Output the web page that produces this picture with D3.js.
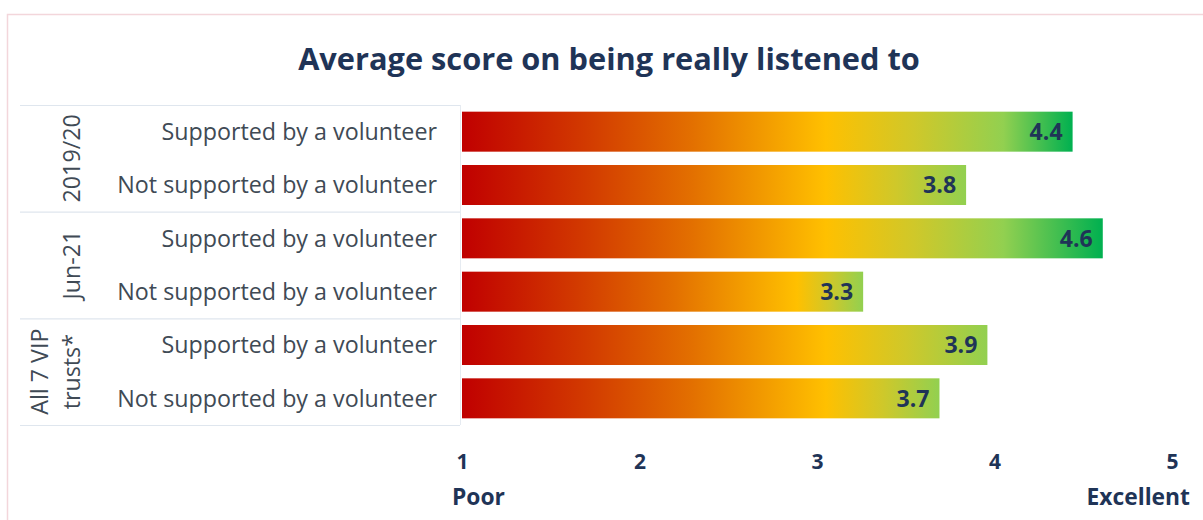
<!DOCTYPE html>
<html>
<head>
<meta charset="utf-8">
<script src="https://cdn.jsdelivr.net/npm/d3@7"></script>
<style>
  html, body { margin: 0; padding: 0; background: #ffffff; }
  svg { display: block; }
</style>
</head>
<body>
<svg id="chart" width="1203" height="520"></svg>
<script>
// ---------------- data ----------------
const title = "Average score on being really listened to";
const categories = [
  "Supported by a volunteer",
  "Not supported by a volunteer",
  "Supported by a volunteer",
  "Not supported by a volunteer",
  "Supported by a volunteer",
  "Not supported by a volunteer"
];
const groupNames = ["2019/20", "Jun-21", "All 7 VIP trusts*"];
const groupLines = [["2019/20"], ["Jun-21"], ["All 7 VIP", "trusts*"]];
const groupSizes = [2, 2, 2];
const values = [4.44, 3.84, 4.61, 3.26, 3.96, 3.69];
const valueLabels = ["4.4", "3.8", "4.6", "3.3", "3.9", "3.7"];
const tickValues = [1, 2, 3, 4, 5];
const tickLabels = ["1", "2", "3", "4", "5"];
const endLabels = ["Poor", "Excellent"];

// ---------------- layout ----------------
const W = 1203, H = 520;
const FONT = "'Open Sans', 'Noto Sans', sans-serif";
const NAVY = "#1f3457";
const GREY = "#404a55";
const svg = d3.select("#chart");

function fit(sel, target) {
  const node = sel.node();
  const fs = parseFloat(sel.attr("font-size"));
  const w = node.getComputedTextLength();
  const nfs = fs * target / w;
  sel.attr("font-size", nfs);
  return nfs;
}

// outer border
svg.append("rect")
  .attr("x", 7.5).attr("y", 14.5)
  .attr("width", W + 20).attr("height", H + 20)
  .attr("fill", "#ffffff")
  .attr("stroke", "#f3d6db").attr("stroke-width", 1.5);

// title
const t = svg.append("text")
  .attr("x", 609).attr("y", 70)
  .attr("text-anchor", "middle")
  .attr("font-family", FONT).attr("font-weight", 700)
  .attr("font-size", 28).attr("fill", NAVY)
  .text(title);
fit(t, 622);

// scales
const x = d3.scaleLinear().domain([1, 5]).range([462, 1172]);
const rows = d3.range(values.length);
const y = d3.scaleBand().domain(rows).range([105, 425])
  .paddingInner(0.25).paddingOuter(0.125);

// separator lines (group boundaries)
let cum = 0;
const boundaries = [0];
groupSizes.forEach(s => { cum += s; boundaries.push(cum); });
const step = y.step();
const yTop = 105;
svg.append("g").selectAll("line")
  .data(boundaries)
  .join("line")
  .attr("x1", 20).attr("x2", 460)
  .attr("y1", d => yTop + d * step + 0.5)
  .attr("y2", d => yTop + d * step + 0.5)
  .attr("stroke", "#dfe6ee").attr("stroke-width", 1.2);
// vertical axis line
svg.append("line")
  .attr("x1", 460.5).attr("x2", 460.5)
  .attr("y1", 105).attr("y2", 425)
  .attr("stroke", "#e6ebf1").attr("stroke-width", 1);

// gradients per bar
const defs = svg.append("defs");
const x0 = x(1);
values.forEach((v, i) => {
  const end = x(v);
  const L = end - x0;
  const yellowX = Math.min(x(3.05), end - 66);
  const s = (yellowX - x0) / (x(3.05) - x0);
  const stops = [
    [x0, "#c00000"],
    [x0 + (x(1.7) - x0) * s, "#d23a00"],
    [x0 + (x(2.3) - x0) * s, "#e37000"],
    [yellowX, "#ffc000"]
  ];
  if (end > x(4.05)) {
    stops.push([x(3.55), "#cfc82a"]);
    stops.push([x(4.05), "#92d050"]);
    stops.push([end, "#00b050"]);
  } else {
    stops.push([yellowX + (end - yellowX) * 0.5, "#cfc82a"]);
    stops.push([end, "#92d050"]);
  }
  const g = defs.append("linearGradient")
    .attr("id", "grad" + i)
    .attr("x1", "0").attr("x2", "1").attr("y1", "0").attr("y2", "0");
  g.selectAll("stop").data(stops).join("stop")
    .attr("offset", d => Math.max(0, Math.min(1, (d[0] - x0) / L)))
    .attr("stop-color", d => d[1]);
});

// bars
svg.append("g").selectAll("rect")
  .data(values)
  .join("rect")
  .attr("x", x(1))
  .attr("y", (d, i) => y(i))
  .attr("width", d => x(d) - x(1))
  .attr("height", y.bandwidth())
  .attr("fill", (d, i) => `url(#grad${i})`);

// value labels
const vl = svg.append("g").selectAll("text")
  .data(values)
  .join("text")
  .attr("x", d => x(d) - 10)
  .attr("y", (d, i) => y(i) + y.bandwidth() / 2)
  .attr("dy", "0.36em")
  .attr("text-anchor", "end")
  .attr("font-family", FONT).attr("font-weight", 700)
  .attr("font-size", 20).attr("fill", NAVY)
  .text((d, i) => valueLabels[i]);
const vfs = fit(d3.select(vl.nodes()[0]), 33);
vl.attr("font-size", vfs);

// category labels
const cl = svg.append("g").selectAll("text")
  .data(categories)
  .join("text")
  .attr("x", 437)
  .attr("y", (d, i) => y(i) + y.bandwidth() / 2)
  .attr("dy", "0.36em")
  .attr("text-anchor", "end")
  .attr("font-family", FONT)
  .attr("font-size", 20).attr("fill", GREY)
  .text(d => d);
const cfs = fit(d3.select(cl.nodes()[1]), 320);
cl.attr("font-size", cfs);

// group labels (rotated)
const gg = svg.append("g");
groupLines.forEach((lines, gi) => {
  const cy = yTop + (boundaries[gi] + boundaries[gi + 1]) / 2 * step;
  const n = lines.length;
  lines.forEach((ln, li) => {
    const cx = 72 - (n - 1 - li) * 32;
    gg.append("text")
      .attr("transform", `translate(${cx},${cy}) rotate(-90)`)
      .attr("text-anchor", "middle")
      .attr("dy", "0.36em")
      .attr("font-family", FONT)
      .attr("font-size", cfs).attr("fill", GREY)
      .text(ln);
  });
});

// x axis
const axis = d3.axisBottom(x)
  .tickValues(tickValues)
  .tickFormat((d, i) => tickLabels[i])
  .tickSize(0).tickPadding(8);
const ax = svg.append("g")
  .attr("transform", "translate(0,446)")
  .call(axis);
ax.select(".domain").remove();
ax.selectAll("text")
  .attr("font-family", FONT).attr("font-weight", 700)
  .attr("font-size", 21).attr("fill", NAVY);

// end labels
const ep = svg.append("text")
  .attr("x", x(1) - 10).attr("y", 505)
  .attr("text-anchor", "start")
  .attr("font-family", FONT).attr("font-weight", 700)
  .attr("font-size", 19).attr("fill", NAVY)
  .text(endLabels[0]);
const efs = fit(ep, 53);
svg.append("text")
  .attr("x", x(5) + 18).attr("y", 505)
  .attr("text-anchor", "end")
  .attr("font-family", FONT).attr("font-weight", 700)
  .attr("font-size", efs).attr("fill", NAVY)
  .text(endLabels[1]);
</script>
</body>
</html>
